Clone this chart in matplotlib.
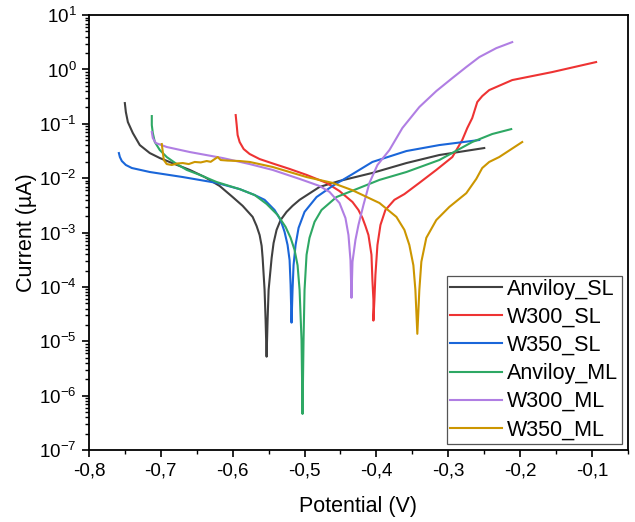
import numpy as np
import matplotlib
matplotlib.use("Agg")
import matplotlib.pyplot as plt
from matplotlib.ticker import FuncFormatter, MultipleLocator, LogLocator

plt.rcParams['font.family'] = ['Liberation Sans', 'DejaVu Sans']
plt.rcParams['mathtext.default'] = 'regular'

# Anviloy_SL
v_anv_sl = [-0.7500, -0.7486, -0.7458, -0.7389, -0.7292, -0.7153, -0.7014, -0.6806, -0.6597,
            -0.6389, -0.6181, -0.6000, -0.5861, -0.5722, -0.5667, -0.5625, -0.5597, -0.5583,
            -0.5556, -0.5542, -0.5528, -0.5514, -0.5500, -0.5458, -0.5431, -0.5389, -0.5333,
            -0.5250, -0.5167, -0.5069, -0.4792, -0.4514, -0.4056, -0.3583, -0.3125, -0.2500]
i_anv_sl = [0.241, 0.165, 0.108, 0.0678, 0.0407, 0.029, 0.0235, 0.0182, 0.0142,
            0.0105, 0.0072, 0.0045, 0.0031, 0.00194, 1.32e-3, 9.0e-4, 5.7e-4, 3.4e-4,
            8.8e-5, 2.5e-5, 5.2e-6, 2.5e-5, 8.8e-5, 3.4e-4, 6.4e-4, 1.12e-3, 1.7e-3,
            2.4e-3, 3.1e-3, 4.0e-3, 6.9e-3, 8.9e-3, 0.0125, 0.019, 0.0267, 0.0359]

# W300_SL
v_w300_sl = [-0.5958, -0.5944, -0.5931, -0.5903, -0.5847, -0.5764, -0.5625, -0.5417, -0.5208,
             -0.4972, -0.4694, -0.4514, -0.4333, -0.4250, -0.4194, -0.4153, -0.4111, -0.4069,
             -0.4056, -0.4042, -0.4042, -0.4028, -0.4014, -0.3986, -0.3944, -0.3875, -0.3750,
             -0.3611, -0.3403, -0.3167, -0.2944, -0.2806, -0.2736, -0.2667, -0.2597, -0.2528,
             -0.2431, -0.2111, -0.1556, -0.0944]
i_w300_sl = [0.145, 0.095, 0.0622, 0.0463, 0.0344, 0.0279, 0.0225, 0.0182, 0.0148,
             0.0115, 0.0082, 0.0058, 0.00365, 2.6e-3, 0.00185, 1.32e-3, 9.0e-4, 3.9e-4,
             1.35e-4, 5.8e-5, 2.4e-5, 5.8e-5, 1.66e-4, 5.9e-4, 1.38e-3, 2.6e-3, 4.0e-3,
             5.1e-3, 8.2e-3, 0.0142, 0.0245, 0.0504, 0.0838, 0.128, 0.252, 0.324,
             0.418, 0.639, 0.896, 1.37]

# W350_SL
v_w350_sl = [-0.7583, -0.7569, -0.7542, -0.7486, -0.7403, -0.7153, -0.6694, -0.6222, -0.5903,
             -0.5694, -0.5556, -0.5417, -0.5333, -0.5278, -0.5236, -0.5208, -0.5194, -0.5181,
             -0.5167, -0.5153, -0.5125, -0.5083, -0.5000, -0.4833, -0.4611, -0.4333, -0.4056,
             -0.3583, -0.3125, -0.2569]
i_w350_sl = [0.029, 0.0245, 0.0207, 0.0175, 0.0154, 0.013, 0.0105, 0.0082, 0.0063,
             0.0049, 0.0040, 0.0026, 0.0017, 0.00103, 5.9e-4, 3.1e-4, 1.09e-4, 2.2e-5,
             8.8e-5, 2.5e-4, 5.9e-4, 1.22e-3, 2.4e-3, 4.5e-3, 7.2e-3, 0.0119, 0.0199,
             0.0316, 0.0407, 0.0504]

# Anviloy_ML
v_anv_ml = [-0.7125, -0.7125, -0.7111, -0.7083, -0.7014, -0.6917, -0.6778, -0.6639, -0.6458,
            -0.6222, -0.5903, -0.5694, -0.5528, -0.5375, -0.5264, -0.5194, -0.5139, -0.5097,
            -0.5069, -0.5042, -0.5028, -0.5014, -0.5000, -0.4972, -0.4931, -0.4861, -0.4764,
            -0.4556, -0.4278, -0.3958, -0.3583, -0.3125, -0.2667, -0.2389, -0.2125]
i_anv_ml = [0.139, 0.095, 0.0678, 0.0463, 0.033, 0.0245, 0.0182, 0.0142, 0.0115,
            0.0085, 0.0063, 0.0049, 0.00336, 0.00211, 0.00127, 8.0e-4, 4.8e-4, 2.5e-4,
            8.8e-5, 1.06e-5, 4.6e-7, 1.06e-5, 8.8e-5, 3.9e-4, 8.0e-4, 1.57e-3, 2.6e-3,
            4.5e-3, 0.0063, 0.0093, 0.013, 0.0216, 0.0463, 0.065, 0.080]

# W300_ML
v_w300_ml = [-0.7125, -0.7111, -0.7069, -0.6917, -0.6597, -0.6139, -0.5764, -0.5444, -0.5069,
             -0.4792, -0.4653, -0.4514, -0.4431, -0.4389, -0.4361, -0.4347, -0.4333, -0.4292,
             -0.4250, -0.4181, -0.4097, -0.3986, -0.3819, -0.3639, -0.3403, -0.3167, -0.2944,
             -0.2750, -0.2569, -0.2333, -0.2111]
i_w300_ml = [0.0707, 0.0548, 0.0444, 0.0375, 0.0303, 0.0235, 0.0182, 0.0142, 0.0097,
             0.0072, 0.0056, 0.0035, 0.00185, 9.0e-4, 3.1e-4, 6.3e-5, 2.9e-4, 7.3e-4,
             1.38e-3, 3.2e-3, 8.2e-3, 0.0175, 0.033, 0.0838, 0.204, 0.401, 0.695,
             1.11, 1.69, 2.47, 3.19]

# W350_ML
v_w350_ml = [-0.6986, -0.6972, -0.6958, -0.6917, -0.6847, -0.6778, -0.6694, -0.6611, -0.6528,
             -0.6444, -0.6361, -0.6306, -0.6250, -0.6208, -0.6167, -0.6069, -0.5903, -0.5764,
             -0.5444, -0.4972, -0.4611, -0.4333, -0.3958, -0.3722, -0.3611, -0.3542, -0.3486,
             -0.3458, -0.3431, -0.3403, -0.3375, -0.3306, -0.3167, -0.2986, -0.2750, -0.2611,
             -0.2528, -0.2431, -0.2292, -0.1972]
i_w350_ml = [0.0425, 0.0303, 0.0216, 0.0182, 0.0175, 0.0186, 0.019, 0.0182, 0.0199,
             0.0195, 0.0207, 0.0200, 0.0225, 0.0245, 0.0216, 0.0211, 0.0207, 0.0199,
             0.0161, 0.0105, 0.0082, 0.006, 0.0035, 0.00194, 0.00112, 5.9e-4, 2.5e-4,
             8.8e-5, 1.37e-5, 8.8e-5, 2.9e-4, 8.0e-4, 1.7e-3, 2.96e-3, 5.3e-3, 0.0097,
             0.0154, 0.0199, 0.0245, 0.0463]

series = [
    ("Anviloy_SL", v_anv_sl, i_anv_sl, "#404040"),
    ("W300_SL", v_w300_sl, i_w300_sl, "#ee3333"),
    ("W350_SL", v_w350_sl, i_w350_sl, "#1a66d9"),
    ("Anviloy_ML", v_anv_ml, i_anv_ml, "#2ea864"),
    ("W300_ML", v_w300_ml, i_w300_ml, "#b07ee3"),
    ("W350_ML", v_w350_ml, i_w350_ml, "#cc9600"),
]

fig = plt.figure(figsize=(6.35, 5.22), dpi=100)
ax = fig.add_axes([0.140, 0.138, 0.849, 0.833])

for name, v, i, c in series:
    ax.plot(v, i, color=c, lw=1.5, label=name)

ax.set_yscale('log')
ax.set_ylim(1e-7, 1e1)
ax.set_xlim(-0.8, -0.05)

ax.xaxis.set_major_locator(MultipleLocator(0.1))
ax.xaxis.set_minor_locator(MultipleLocator(0.05))
ax.xaxis.set_major_formatter(FuncFormatter(lambda x, p: ("%.1f" % x).replace('.', ',')))
ax.yaxis.set_major_locator(LogLocator(base=10, numticks=20))
ax.yaxis.set_minor_locator(LogLocator(base=10, subs=np.arange(2, 10), numticks=20))
ax.yaxis.set_major_formatter(FuncFormatter(lambda y, p: r"$10^{%d}$" % int(round(np.log10(y)))))

ax.tick_params(which='major', direction='out', length=5, width=1.2, labelsize=13.5, pad=4)
ax.tick_params(which='minor', direction='out', length=3, width=1.0)
for s in ax.spines.values():
    s.set_linewidth(1.3)

ax.set_xlabel("Potential (V)", fontsize=15.5, labelpad=12)
ax.set_ylabel("Current (\u00b5A)", fontsize=15.5, labelpad=1)

leg = ax.legend(loc='lower right', fontsize=15.5, frameon=True, fancybox=False,
                edgecolor='#555555', framealpha=1, handlelength=2.4, handletextpad=0.25,
                labelspacing=0.33, borderpad=0.15, borderaxespad=0.3)
leg.get_frame().set_linewidth(0.9)

fig.savefig("out.png", dpi=100)
